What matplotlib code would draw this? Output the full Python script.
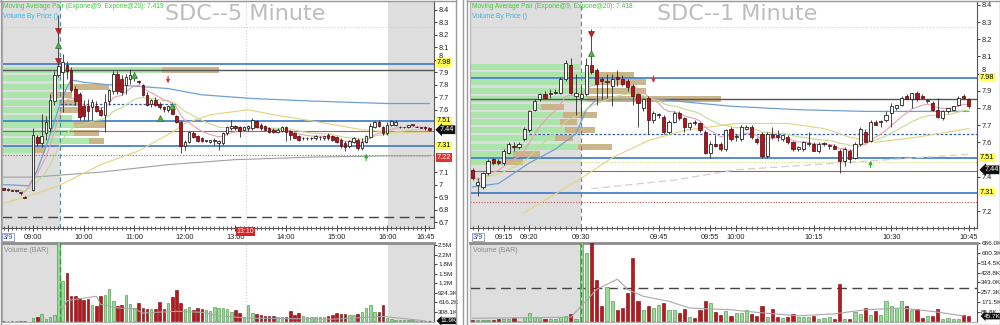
import numpy as np
import pandas as pd
import matplotlib
matplotlib.use('Agg')
import matplotlib.pyplot as plt
import matplotlib.transforms as mtransforms
from matplotlib.lines import Line2D

plt.rcParams['font.family'] = ['Liberation Sans', 'DejaVu Sans']

# ---------------- SDC 5 minute (left) ----------------
left_pre_times = ['08:25', '08:30', '08:35', '08:40', '08:45', '08:50']
left_times = left_pre_times + [f'{m // 60:02d}:{m % 60:02d}' for m in range(540, 1015, 5)]

left_open = [6.97, 6.96, 6.96, 6.95, 6.94, 6.90,
             6.96, 7.38, 7.33, 7.41, 7.45, 7.67, 7.88, 7.90, 7.96, 7.92, 7.77, 7.73,   # 09
             7.63, 7.63, 7.62, 7.63, 7.60, 7.56, 7.67, 7.75, 7.89, 7.85, 7.80, 7.85,   # 10
             7.86, 7.83, 7.80, 7.72, 7.65, 7.68, 7.65, 7.62, 7.60, 7.63, 7.55, 7.50,   # 11
             7.31, 7.34, 7.41, 7.39, 7.37, 7.35, 7.34, 7.35, 7.33, 7.33, 7.41, 7.45,   # 12
             7.47, 7.46, 7.44, 7.45, 7.45, 7.51, 7.48, 7.47, 7.45, 7.44, 7.42, 7.43,   # 13
             7.46, 7.43, 7.41, 7.39, 7.37, 7.37, 7.37, 7.37, 7.38, 7.37, 7.40, 7.39,   # 14
             7.38, 7.36, 7.33, 7.31, 7.34, 7.36, 7.29, 7.34, 7.38, 7.46, 7.50, 7.46,   # 15
             7.41, 7.48, 7.48, 7.46, 7.46, 7.46, 7.48, 7.46, 7.46, 7.46, 7.45]         # 16
left_high = [6.97, 6.97, 6.96, 6.96, 6.94, 6.91,
             7.45, 7.40, 7.57, 7.55, 7.73, 7.91, 8.36, 8.05, 7.99, 7.94, 7.79, 7.74,
             7.68, 7.69, 7.69, 7.67, 7.62, 7.73, 7.77, 7.91, 7.91, 7.88, 7.89, 7.93,
             7.90, 7.84, 7.81, 7.74, 7.69, 7.70, 7.66, 7.63, 7.64, 7.65, 7.56, 7.51,
             7.36, 7.43, 7.43, 7.40, 7.38, 7.36, 7.36, 7.37, 7.36, 7.42, 7.47, 7.52,
             7.48, 7.47, 7.47, 7.48, 7.53, 7.52, 7.49, 7.48, 7.46, 7.45, 7.45, 7.47,
             7.47, 7.44, 7.42, 7.40, 7.38, 7.38, 7.38, 7.40, 7.39, 7.39, 7.41, 7.40,
             7.39, 7.37, 7.35, 7.36, 7.38, 7.37, 7.37, 7.40, 7.49, 7.51, 7.52, 7.47,
             7.50, 7.52, 7.52, 7.47, 7.46, 7.48, 7.48, 7.47, 7.46, 7.47, 7.46]
left_low = [6.96, 6.95, 6.95, 6.94, 6.92, 6.89,
            6.95, 7.31, 7.30, 7.36, 7.42, 7.64, 7.86, 7.58, 7.85, 7.74, 7.64, 7.52,
            7.52, 7.52, 7.52, 7.58, 7.55, 7.42, 7.64, 7.73, 7.73, 7.72, 7.73, 7.81,
            7.83, 7.81, 7.71, 7.63, 7.62, 7.63, 7.61, 7.58, 7.58, 7.57, 7.49, 7.25,
            7.28, 7.33, 7.37, 7.34, 7.34, 7.34, 7.33, 7.32, 7.28, 7.32, 7.40, 7.44,
            7.44, 7.38, 7.43, 7.43, 7.44, 7.45, 7.44, 7.44, 7.41, 7.41, 7.41, 7.42,
            7.35, 7.36, 7.37, 7.35, 7.36, 7.36, 7.36, 7.36, 7.36, 7.36, 7.36, 7.35,
            7.33, 7.29, 7.27, 7.29, 7.33, 7.28, 7.28, 7.33, 7.37, 7.45, 7.46, 7.40,
            7.40, 7.47, 7.47, 7.45, 7.45, 7.45, 7.47, 7.46, 7.45, 7.44, 7.43]
left_close = [6.96, 6.96, 6.95, 6.95, 6.93, 6.89,
              7.40, 7.33, 7.39, 7.50, 7.68, 7.88, 7.95, 7.98, 7.91, 7.76, 7.67, 7.54,
              7.55, 7.59, 7.66, 7.59, 7.56, 7.66, 7.76, 7.89, 7.75, 7.74, 7.86, 7.88,
              7.87, 7.82, 7.72, 7.64, 7.68, 7.64, 7.62, 7.61, 7.63, 7.57, 7.50, 7.31,
              7.34, 7.42, 7.38, 7.35, 7.35, 7.35, 7.36, 7.35, 7.35, 7.41, 7.46, 7.47,
              7.45, 7.43, 7.46, 7.47, 7.52, 7.46, 7.45, 7.44, 7.42, 7.42, 7.44, 7.46,
              7.42, 7.40, 7.37, 7.36, 7.37, 7.37, 7.37, 7.39, 7.38, 7.39, 7.37, 7.36,
              7.34, 7.31, 7.30, 7.35, 7.37, 7.29, 7.34, 7.39, 7.47, 7.50, 7.47, 7.41,
              7.48, 7.51, 7.50, 7.46, 7.46, 7.48, 7.48, 7.46, 7.45, 7.45, 7.44]
left_volume = [8, 6, 6, 8, 10, 12,
               110, 144, 232, 66, 144, 188, 2600, 1310, 1550, 808, 808, 753,
               697, 720, 531, 498, 808, 863, 1030, 664, 498, 520, 863, 553,
               420, 587, 420, 398, 398, 398, 620, 387, 587, 786, 996, 587,
               387, 476, 365, 420, 387, 365, 343, 476, 420, 420, 398, 310,
               365, 255, 122, 531, 255, 232, 199, 180, 160, 160, 150, 150,
               140, 332, 200, 250, 160, 150, 140, 130, 140, 150, 170, 200,
               277, 240, 230, 200, 200, 230, 310, 420, 531, 310, 310, 531,
               120, 60, 40, 30, 30, 25, 25, 20, 20, 20, 11.9]  # thousands

left_blue_t = ['08:25', '08:55', '09:00', '09:05', '09:15', '09:25', '09:30', '09:40', '09:45',
               '10:00', '10:30', '11:00', '11:40', '12:20', '13:20', '14:30', '16:00', '16:50']
left_blue_v = [7.00, 6.99, 7.05, 7.12, 7.30, 7.50, 7.61, 7.78, 7.84,
               7.82, 7.80, 7.79, 7.77, 7.72, 7.69, 7.67, 7.65, 7.65]
left_yellow_t = ['08:25', '09:00', '09:30', '10:20', '11:05', '11:45', '12:00', '12:30',
                 '13:15', '13:45', '14:40', '15:30', '16:05', '16:50']
left_yellow_v = [6.85, 6.92, 6.99, 7.16, 7.27, 7.42, 7.49, 7.56, 7.60, 7.56, 7.50, 7.44, 7.42, 7.42]
left_grey_t = ['08:25', '09:00', '10:20', '11:40', '13:00', '14:30', '16:00', '16:50']
left_grey_v = [7.06, 7.06, 7.10, 7.16, 7.20, 7.22, 7.23, 7.23]

left_vavg_t = ['09:35', '09:40', '10:15', '10:20', '10:40', '11:00', '11:10', '11:50',
               '12:20', '12:40', '13:15', '14:55', '15:55', '16:15', '16:45']
left_vavg_v = [400, 664, 808, 542, 432, 398, 266, 321, 288, 177, 100, 66, 155, 100, 10]

# volume by price rows: price, up volume (green), down volume (tan), in thousands
left_vbp_price = [7.916, 7.852, 7.785, 7.719, 7.654, 7.596, 7.537, 7.475, 7.414, 7.347, 7.275]
left_vbp_up = [1600, 570, 720, 480, 570, 580, 700, 720, 720, 870, 300]
left_vbp_down = [570, 0, 350, 220, 230, 240, 0, 310, 250, 150, 130]

left_levels_blue = [7.965, 7.51, 7.31]
left_level_grey = 7.92
left_level_red = 7.43
left_level_reddot = 7.235
left_level_bluedash = 7.65

left_sell_t = ['09:30', '09:30']
left_sell_p = [8.23, 7.99]
left_buy_t = ['09:30', '11:00', '11:30', '11:45']
left_buy_p = [8.12, 7.88, 7.53, 7.63]

# ---------------- SDC 1 minute (right) ----------------
right_times = [f'{m // 60:02d}:{m % 60:02d}' for m in range(549, 646)]

right_open = [7.44, 7.35, 7.34, 7.42, 7.50, 7.49, 7.48, 7.54, 7.58, 7.57, 7.62,     # 09:09
              7.67, 7.79, 7.85, 7.88, 7.88, 7.89, 7.89, 7.97, 8.05, 7.87,           # 09:20
              7.86, 7.88, 8.05, 8.02, 7.97, 7.95, 7.93, 7.98, 7.97, 7.96,           # 09:30
              7.93, 7.88, 7.80, 7.86, 7.73, 7.76, 7.75, 7.66, 7.72, 7.77,           # 09:40
              7.74, 7.69, 7.72, 7.71, 7.66, 7.54, 7.59, 7.59, 7.56, 7.68,           # 09:50
              7.63, 7.62, 7.68, 7.69, 7.62, 7.65, 7.52, 7.65, 7.64, 7.62,           # 10:00
              7.63, 7.60, 7.56, 7.56, 7.59, 7.59, 7.55, 7.59, 7.58, 7.58,           # 10:10
              7.55, 7.49, 7.55, 7.51, 7.59, 7.66, 7.61, 7.72, 7.72, 7.73,           # 10:20
              7.77, 7.80, 7.82, 7.87, 7.85, 7.89, 7.87, 7.84, 7.83, 7.79,           # 10:30
              7.74, 7.78, 7.79, 7.82, 7.87, 7.85]                                   # 10:40
right_high = [7.45, 7.39, 7.43, 7.50, 7.51, 7.50, 7.56, 7.60, 7.60, 7.60, 7.69,
              7.79, 7.85, 7.89, 7.90, 7.91, 7.91, 7.98, 8.08, 8.09, 8.00,
              7.93, 8.09, 8.26, 8.03, 7.98, 8.00, 8.00, 8.02, 7.99, 7.97,
              7.94, 7.89, 7.86, 7.87, 7.78, 7.77, 7.76, 7.73, 7.78, 7.78,
              7.75, 7.72, 7.73, 7.72, 7.67, 7.61, 7.64, 7.60, 7.68, 7.69,
              7.65, 7.70, 7.70, 7.70, 7.63, 7.66, 7.66, 7.69, 7.67, 7.64,
              7.64, 7.61, 7.58, 7.61, 7.66, 7.60, 7.60, 7.60, 7.59, 7.59,
              7.56, 7.57, 7.56, 7.60, 7.69, 7.68, 7.73, 7.73, 7.73, 7.78,
              7.83, 7.82, 7.87, 7.88, 7.89, 7.90, 7.88, 7.85, 7.84, 7.86,
              7.79, 7.80, 7.81, 7.87, 7.88, 7.86]
right_low = [7.38, 7.29, 7.33, 7.41, 7.47, 7.47, 7.47, 7.53, 7.55, 7.56, 7.61,
             7.66, 7.78, 7.84, 7.85, 7.86, 7.88, 7.88, 7.96, 7.88, 7.76,
             7.76, 7.87, 8.00, 7.82, 7.85, 7.86, 7.81, 7.93, 7.93, 7.90,
             7.82, 7.69, 7.78, 7.65, 7.71, 7.74, 7.65, 7.65, 7.71, 7.73,
             7.66, 7.67, 7.70, 7.66, 7.53, 7.51, 7.57, 7.55, 7.55, 7.61,
             7.61, 7.61, 7.67, 7.62, 7.59, 7.51, 7.51, 7.62, 7.61, 7.61,
             7.59, 7.55, 7.55, 7.55, 7.58, 7.55, 7.54, 7.58, 7.56, 7.56,
             7.42, 7.46, 7.48, 7.50, 7.58, 7.60, 7.60, 7.70, 7.69, 7.72,
             7.69, 7.79, 7.81, 7.85, 7.80, 7.84, 7.86, 7.83, 7.78, 7.74,
             7.73, 7.77, 7.79, 7.81, 7.85, 7.80]
right_close = [7.39, 7.37, 7.42, 7.49, 7.48, 7.48, 7.55, 7.59, 7.57, 7.59, 7.68,
               7.78, 7.84, 7.88, 7.86, 7.88, 7.89, 7.97, 8.06, 7.89, 7.89,
               7.88, 8.05, 8.01, 7.94, 7.96, 7.95, 7.97, 7.97, 7.94, 7.92,
               7.87, 7.83, 7.85, 7.73, 7.77, 7.76, 7.66, 7.72, 7.77, 7.74,
               7.69, 7.71, 7.71, 7.67, 7.54, 7.59, 7.58, 7.56, 7.67, 7.62,
               7.63, 7.69, 7.69, 7.63, 7.60, 7.52, 7.65, 7.63, 7.63, 7.64,
               7.60, 7.56, 7.57, 7.60, 7.59, 7.55, 7.59, 7.59, 7.58, 7.56,
               7.49, 7.56, 7.50, 7.59, 7.68, 7.60, 7.72, 7.70, 7.72, 7.76,
               7.81, 7.82, 7.86, 7.85, 7.89, 7.85, 7.86, 7.84, 7.79, 7.75,
               7.78, 7.80, 7.81, 7.86, 7.86, 7.81]
right_volume = [12, 12, 12, 12, 12, 21, 21, 21, 33, 6, 42,
                72, 36, 36, 18, 18, 18, 36, 48, 66, 18,
                700, 604, 700, 365, 132, 305, 176, 102, 117, 251,
                556, 176, 96, 132, 117, 140, 161, 102, 102, 72,
                108, 36, 27, 102, 176, 161, 78, 57, 87, 48,
                72, 72, 96, 66, 48, 132, 42, 111, 36, 27,
                36, 66, 36, 36, 42, 48, 18, 27, 42, 24,
                326, 24, 18, 78, 66, 117, 57, 87, 57, 176,
                132, 117, 182, 132, 102, 108, 27, 48, 48, 108,
                24, 30, 24, 24, 57, 45.7]  # thousands

right_blue_t = ['09:09', '09:14', '09:20', '09:25', '09:29', '09:31', '09:33', '09:45',
                '09:59', '10:12', '10:25', '10:45']
right_blue_v = [7.34, 7.36, 7.48, 7.56, 7.65, 7.79, 7.85, 7.85, 7.81, 7.79, 7.78, 7.78]
right_yellow_t = ['09:19', '09:30', '09:36', '09:43', '09:50', '10:00', '10:10', '10:17',
                  '10:22', '10:27', '10:35', '10:45']
right_yellow_v = [7.19, 7.39, 7.51, 7.61, 7.67, 7.71, 7.71, 7.68, 7.63, 7.60, 7.63, 7.68]
right_grey_t = ['09:32', '09:48', '10:00', '10:15', '10:30', '10:45']
right_grey_v = [7.33, 7.38, 7.44, 7.47, 7.50, 7.53]

right_vavg_t = ['09:09', '09:28', '09:33', '09:37', '09:39', '09:42', '09:47', '09:51',
                '09:59', '10:02', '10:12', '10:19', '10:25', '10:32', '10:38', '10:44']
right_vavg_v = [27, 36, 281, 371, 281, 221, 176, 117, 102, 87, 48, 66, 102, 117, 87, 48]

right_vbp_price = [8.037, 7.992, 7.950, 7.901, 7.854, 7.808, 7.761, 7.719, 7.672, 7.624,
                   7.575, 7.532, 7.488]
right_vbp_up = [550, 640, 640, 585, 585, 355, 465, 450, 475, 425, 540, 215, 175]
right_vbp_down = [0, 180, 240, 295, 670, 115, 170, 85, 150, 90, 170, 135, 90]

right_levels_blue = [7.973, 7.507, 7.303]
right_level_grey = 7.853
right_level_red = 7.435
right_level_reddot = 7.25
right_level_bluedash = 7.647
right_level_yellowdot = 7.486
right_last_tag = 7.44

right_sell_t = ['09:32']
right_sell_p = [8.23]
right_buy_t = ['09:32']
right_buy_p = [8.12]


def hm(s):
    h, m = s.split(':')
    return int(h) * 60 + int(m)


def mins(lst):
    return np.array([hm(s) for s in lst], dtype=float)


def candles(ax, t, o, h, l, c, width):
    o, h, l, c = map(np.asarray, (o, h, l, c))
    up = c >= o
    ax.vlines(t, l, h, color='#2a2a2a', lw=0.6, zorder=4)
    body = np.maximum(np.abs(c - o), 0.005)
    bottom = np.minimum(o, c)
    ax.bar(t[up], body[up], bottom=bottom[up], width=width, color='white',
           edgecolor='#222222', lw=0.6, zorder=5)
    ax.bar(t[~up], body[~up], bottom=bottom[~up], width=width, color='#b5121b',
           edgecolor='#4a0808', lw=0.5, zorder=5)
    return up


def volume_bars(ax, t, v, up, width):
    v = np.asarray(v)
    ax.bar(t[up], v[up], width=width, color='#98dc98', edgecolor='#3c8c3c', lw=0.4, zorder=3)
    ax.bar(t[~up], v[~up], width=width, color='#c0141c', edgecolor='#6a0a0a', lw=0.4, zorder=3)


def vbp(ax, prices, upv, downv, full, height):
    tr = mtransforms.blended_transform_factory(ax.transAxes, ax.transData)
    upv = np.asarray(upv) / full
    downv = np.asarray(downv) / full
    ax.barh(prices, upv, height=height, left=0, color='#a6e6a6', alpha=0.9,
            transform=tr, zorder=1)
    ax.barh(prices, downv, height=height, left=upv, color='#c8b285', alpha=0.95,
            transform=tr, zorder=1)


def tag(ax, y, text, fc, tc='black', style='square', x=1.006, size=5.3):
    ax.text(x, y, text, transform=ax.get_yaxis_transform(), fontsize=size, color=tc,
            va='center', ha='left', zorder=10, clip_on=False,
            bbox=dict(boxstyle=f'{style},pad=0.12', fc=fc, ec='none'))


def style_price(ax, xlim, ylim, yticks, xticks, xlabels, minor):
    ax.set_xlim(xlim)
    ax.set_ylim(ylim)
    ax.yaxis.tick_right()
    ax.set_yticks(yticks)
    ax.set_yticklabels([f'{v:g}' for v in yticks])
    ax.set_xticks(xticks)
    ax.set_xticklabels(xlabels)
    ax.set_xticks(minor, minor=True)
    ax.tick_params(axis='y', length=2, width=0.6, labelsize=5.3, pad=1, colors='#222222')
    ax.tick_params(axis='x', which='major', length=4, width=0.6, direction='inout',
                   labelsize=5.3, pad=2, colors='#222222')
    ax.tick_params(axis='x', which='minor', length=2.5, width=0.5, direction='inout',
                   colors='#222222')
    for s in ['left', 'top']:
        ax.spines[s].set_color('#b0b0b0')
    ax.spines['right'].set_color('#555555')
    ax.spines['bottom'].set_color('#555555')
    lab = ax.get_xticklabels()[0]
    lab.set_color('#3b4fa0')
    lab.set_bbox(dict(fc='none', ec='#7080c0', lw=0.5, pad=0.6))
    # the "8" label peeks out above the 7.98 tag
    for tl, v in zip(ax.get_yticklabels(), yticks):
        if v == 8.0:
            tl.set_verticalalignment('bottom')


def style_volume(ax, xlim, ylim, yticks, ylabels):
    ax.set_xlim(xlim)
    ax.set_ylim(ylim)
    ax.yaxis.tick_right()
    ax.set_yticks(yticks)
    ax.set_yticklabels(ylabels)
    ax.set_xticks([])
    ax.tick_params(axis='y', length=2, width=0.6, labelsize=4.6, pad=1, colors='#222222')
    ax.spines['top'].set_color('#8c8c8c')
    ax.spines['top'].set_linewidth(2)
    ax.spines['left'].set_color('#b0b0b0')
    ax.spines['bottom'].set_color('#b0b0b0')
    ax.spines['right'].set_color('#555555')


W, H = 1000, 325


def box(x0, y0, x1, y1):
    return [x0 / W, 1 - y1 / H, (x1 - x0) / W, (y1 - y0) / H]


fig = plt.figure(figsize=(10, 3.25), dpi=100)
axL = fig.add_axes(box(2, 1, 434, 228))
axLv = fig.add_axes(box(2, 243, 434, 322))
axR = fig.add_axes(box(470, 1, 977, 228))
axRv = fig.add_axes(box(470, 243, 977, 322))

# ===== left price =====
tL = mins(left_times)
xlimL = (503, 1015.5)
axL.axvspan(xlimL[0], 572, color='#dedede', zorder=0, lw=0)
axL.axvspan(961, xlimL[1], color='#dedede', zorder=0, lw=0)
vbp(axL, left_vbp_price, left_vbp_up, left_vbp_down, 4320, 0.05)
for lv in left_levels_blue:
    axL.axhline(lv, color='#3a78c8', lw=1.2, zorder=2)
axL.axhline(left_level_grey, color='#555555', lw=1.0, zorder=2)
axL.axhline(left_level_red, color='#d05050', lw=0.8, zorder=2)
axL.axhline(left_level_reddot, color='#d05050', lw=0.8, ls=(0, (1, 1.5)), zorder=2)
axL.hlines(left_level_bluedash, 572, 712, color='#3060b0', lw=0.9, linestyles=(0, (2, 1.5)), zorder=2)
axL.axhline(6.74, color='#444444', lw=1.0, dashes=(7, 4), zorder=2)
axL.axhline(8.26, color='#cfcfcf', lw=0.8, ls=':', zorder=1)
axL.axvline(792, color='#cfcfcf', lw=0.8, ls=':', zorder=1)
axL.axvline(572, color='#4a8a9a', lw=0.8, dashes=(4, 3), zorder=2)

closeL = pd.Series(left_close)
axL.plot(mins(left_grey_t), left_grey_v, color='#a0a0a0', lw=0.8, zorder=3)
axL.plot(mins(left_yellow_t), left_yellow_v, color='#e4d27c', lw=0.8, zorder=3)
axL.plot(mins(left_blue_t), left_blue_v, color='#6f9fd8', lw=0.9, zorder=3)
axL.plot(tL, closeL.ewm(span=20, adjust=False).mean(), color='#c4dc8c', lw=0.8, zorder=3)
axL.plot(tL, closeL.ewm(span=9, adjust=False).mean(), color='#eaa0ae', lw=0.8, zorder=3)

upL = candles(axL, tL, left_open, left_high, left_low, left_close, 3.0)
axL.plot(mins(left_sell_t), left_sell_p, 'v', ms=4, color='#cc2222', mec='#801010', mew=0.4, zorder=6)
axL.plot(mins(left_buy_t), left_buy_p, '^', ms=4, color='#44bb44', mec='#206020', mew=0.4, zorder=6)
axL.annotate('', xy=(hm('11:40'), 7.79), xytext=(0, 9), textcoords='offset points',
             arrowprops=dict(arrowstyle='-|>', color='#e03030', lw=0.8, mutation_scale=5), zorder=6)
axL.annotate('', xy=(hm('15:35'), 7.27), xytext=(0, -9), textcoords='offset points',
             arrowprops=dict(arrowstyle='-|>', color='#30b030', lw=0.8, mutation_scale=5), zorder=6)

style_price(axL, xlimL, (6.652, 8.472),
            [8.4, 8.3, 8.2, 8.1, 8.0, 7.9, 7.8, 7.7, 7.6, 7.1, 7.0, 6.9, 6.8, 6.7],
            [510, 540, 600, 660, 720, 780, 840, 900, 960, 1005],
            ['3/9', '09:00', '10:00', '11:00', '12:00', '13:00', '14:00', '15:00', '16:00', '16:45'],
            np.arange(505, 1015, 5))
tag(axL, 7.98, '7.98', '#ffff55')
tag(axL, 7.51, '7.51', '#ffff55')
tag(axL, 7.31, '7.31', '#ffff55')
tag(axL, 7.22, '7.22', '#e83030', tc='white')
tag(axL, left_close[-1], f'{left_close[-1]:.2f}', '#111111', tc='white', style='larrow', x=1.014)
axL.text(792, 6.652, '13:10', fontsize=5, color='white', ha='center', va='top', zorder=10,
         clip_on=False, bbox=dict(boxstyle='square,pad=0.15', fc='#e02020', ec='none'))

# ===== left volume =====
axLv.axvspan(xlimL[0], 572, color='#dedede', zorder=0, lw=0)
axLv.axvspan(961, xlimL[1], color='#dedede', zorder=0, lw=0)
axLv.axvline(792, color='#cfcfcf', lw=0.8, ls=':', zorder=1)
volume_bars(axLv, tL, left_volume, upL, 3.0)
axLv.axvline(572, color='#2f9a3f', lw=1.0, dashes=(4, 2), zorder=4)
axLv.plot(mins(left_vavg_t), left_vavg_v, color='#a8a8a8', lw=0.8, zorder=4)
lv_ticks = [308.1 * k for k in range(1, 9)]
style_volume(axLv, xlimL, (-25, 2530), lv_ticks,
             ['308.1K', '616.2K', '924.3K', '1.2M', '1.5M', '1.8M', '2.2M', '2.5M'])
tag(axLv, left_volume[-1], f'{left_volume[-1]:.1f}K', '#111111', tc='white', style='larrow',
    x=1.014, size=4.6)

# ===== right price =====
tR = mins(right_times)
xlimR = (548.5, 646.6)
axR.axvspan(xlimR[0], 570, color='#dedede', zorder=0, lw=0)
vbp(axR, right_vbp_price, right_vbp_up, right_vbp_down, 2535, 0.036)
for lv in right_levels_blue:
    axR.axhline(lv, color='#3a78c8', lw=1.2, zorder=2)
axR.axhline(right_level_grey, color='#555555', lw=1.0, zorder=2)
axR.axhline(right_level_red, color='#d05050', lw=0.8, zorder=2)
axR.axhline(right_level_reddot, color='#d05050', lw=0.8, ls=(0, (1, 1.5)), zorder=2)
axR.axhline(right_level_yellowdot, color='#d8d870', lw=0.8, ls=(0, (1, 1.5)), zorder=2)
axR.hlines(right_level_bluedash, 560, xlimR[1], color='#3060b0', lw=0.9,
           linestyles=(0, (2, 1.5)), zorder=2)
axR.axhline(8.27, color='#cfcfcf', lw=0.8, ls=':', zorder=1)
axR.axvline(570, color='#4a8a9a', lw=0.8, dashes=(4, 3), zorder=2)

closeR = pd.Series(right_close)
axR.plot(mins(right_grey_t), right_grey_v, color='#d0d0d0', lw=0.9, dashes=(6, 3), zorder=3)
axR.plot(mins(right_yellow_t), right_yellow_v, color='#e4d27c', lw=0.8, zorder=3)
axR.plot(mins(right_blue_t), right_blue_v, color='#6f9fd8', lw=0.9, zorder=3)
axR.plot(tR, closeR.ewm(span=20, adjust=False).mean(), color='#c4dc8c', lw=0.8, zorder=3)
axR.plot(tR, closeR.ewm(span=9, adjust=False).mean(), color='#eaa0ae', lw=0.8, zorder=3)

upR = candles(axR, tR, right_open, right_high, right_low, right_close, 0.62)
axR.plot(mins(right_sell_t), right_sell_p, 'v', ms=4, color='#cc2222', mec='#801010', mew=0.4, zorder=6)
axR.plot(mins(right_buy_t), right_buy_p, '^', ms=4, color='#44bb44', mec='#206020', mew=0.4, zorder=6)
axR.annotate('', xy=(hm('09:44'), 7.93), xytext=(0, 9), textcoords='offset points',
             arrowprops=dict(arrowstyle='-|>', color='#e03030', lw=0.8, mutation_scale=5), zorder=6)
axR.annotate('', xy=(hm('10:26'), 7.51), xytext=(0, -9), textcoords='offset points',
             arrowprops=dict(arrowstyle='-|>', color='#30b030', lw=0.8, mutation_scale=5), zorder=6)

style_price(axR, xlimR, (7.101, 8.423),
            [8.4, 8.3, 8.2, 8.1, 8.0, 7.9, 7.8, 7.7, 7.6, 7.4, 7.2],
            [550, 555, 560, 570, 585, 595, 600, 615, 630, 645],
            ['3/9', '09:15', '09:20', '09:30', '09:45', '09:55', '10:00', '10:15', '10:30', '10:45'],
            np.arange(549, 647, 1))
tag(axR, 7.98, '7.98', '#ffff55')
tag(axR, 7.51, '7.51', '#ffff55')
tag(axR, 7.31, '7.31', '#ffff55')
tag(axR, right_last_tag, f'{right_last_tag:.2f}', '#111111', tc='white', style='larrow', x=1.014)

# ===== right volume =====
axRv.axvspan(xlimR[0], 570, color='#dedede', zorder=0, lw=0)
volume_bars(axRv, tR, right_volume, upR, 0.62)
axRv.axvline(570, color='#2f9a3f', lw=1.0, dashes=(4, 2), zorder=4)
axRv.axhline(290, color='#444444', lw=1.0, dashes=(7, 4), zorder=2)
axRv.plot(mins(right_vavg_t), right_vavg_v, color='#a8a8a8', lw=0.8, zorder=4)
rv_ticks = [85.75 * k for k in range(1, 9)]
style_volume(axRv, xlimR, (-6, 690), rv_ticks,
             ['85.8K', '171.5K', '257.3K', '343.0K', '428.8K', '514.5K', '600.3K', '686.0K'])
tag(axRv, right_volume[-1], f'{right_volume[-1]:.1f}K', '#111111', tc='white', style='larrow',
    x=1.014, size=4.6)

# ===== texts =====
fig.text(3 / W, 1 - 6 / H, 'Moving Average Pair (Expone@9, Expone@20): 7.419', fontsize=4.8,
         color='#3ccc3c', va='center')
fig.text(3 / W, 1 - 16 / H, 'Volume By Price ()', fontsize=4.8, color='#30b8e8', va='center')
fig.text(472 / W, 1 - 6 / H, 'Moving Average Pair (Expone@9, Expone@20): 7.418', fontsize=4.8,
         color='#3ccc3c', va='center')
fig.text(472 / W, 1 - 16 / H, 'Volume By Price ()', fontsize=4.8, color='#30b8e8', va='center')
fig.text(245 / W, 1 - 14 / H, 'SDC--5 Minute', fontsize=16, color='#bdbdbd', ha='center',
         va='center', family='DejaVu Sans')
fig.text(737 / W, 1 - 14 / H, 'SDC--1 Minute', fontsize=16, color='#bdbdbd', ha='center',
         va='center', family='DejaVu Sans')
fig.text(4 / W, 1 - 251 / H, 'Volume (BAR)', fontsize=5, color='#8a8a8a', va='center')
fig.text(473 / W, 1 - 251 / H, 'Volume (BAR)', fontsize=5, color='#8a8a8a', va='center')

# panel frames
for x in [0.5, 455.5, 462.5, 466.5, 999.5]:
    fig.add_artist(Line2D([x / W, x / W], [0, 1], transform=fig.transFigure, color='#9a9a9a', lw=1))
for y in [0.5, 324.5]:
    fig.add_artist(Line2D([0, 455.5 / W], [1 - y / H, 1 - y / H], transform=fig.transFigure,
                          color='#9a9a9a', lw=1))
    fig.add_artist(Line2D([466.5 / W, 1], [1 - y / H, 1 - y / H], transform=fig.transFigure,
                          color='#9a9a9a', lw=1))

fig.savefig('out.png', dpi=100)
